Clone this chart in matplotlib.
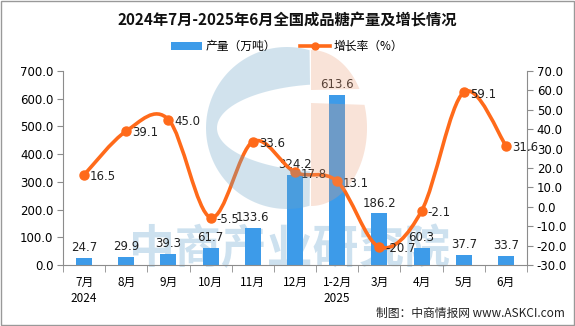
import matplotlib
matplotlib.use("Agg")
import matplotlib.pyplot as plt
from matplotlib.path import Path
from matplotlib.patches import PathPatch, Rectangle
from matplotlib.lines import Line2D
import numpy as np

plt.rcParams['font.family'] = ['Noto Sans CJK SC', 'DejaVu Sans']

categories = ['7月\n2024', '8月', '9月', '10月', '11月', '12月', '1-2月\n2025', '3月', '4月', '5月', '6月']
output = [24.7, 29.9, 39.3, 61.7, 133.6, 324.2, 613.6, 186.2, 60.3, 37.7, 33.7]
growth = [16.5, 39.1, 45.0, -5.5, 33.6, 17.8, 13.1, -20.7, -2.1, 59.1, 31.6]
left_ticks = [0, 100, 200, 300, 400, 500, 600, 700]
right_ticks = [-30, -20, -10, 0, 10, 20, 30, 40, 50, 60, 70]

BLUE = '#3d9be9'
ORANGE = '#ff6a1a'
GREY = '#8c8c8c'

fig = plt.figure(figsize=(5.75, 3.26), dpi=100)
fig.patch.set_facecolor('white')

# background watermark text
bax = fig.add_axes([0.0, 0.0, 1.0, 1.0], zorder=-1)
bax.set_xlim(0, 575); bax.set_ylim(326, 0); bax.axis('off')
bax.text(290, 250, '中商产业研究院', fontsize=33, color='#cde1ef', ha='center', va='center', fontweight='bold')

ax = fig.add_axes([0.1096, 0.187, 0.807, 0.595])
ax.patch.set_visible(False)
ax2 = ax.twinx()

n = len(categories)
x = np.arange(n)

ax.bar(x, output, width=0.38, color=BLUE, zorder=2)
for xi, v in zip(x, output):
    ax.text(xi, v + 14, f'{v:.1f}', ha='center', va='bottom', fontsize=8.5, color='#222222', family='DejaVu Sans')

ax.set_xlim(-0.5, n - 0.5)
ax.set_ylim(0, 700)
ax.set_yticks(left_ticks)
ax.set_yticklabels([f'{t:.1f}' for t in left_ticks], fontsize=8.5, family='DejaVu Sans')
ax.set_xticks(x)
ax.set_xticklabels(categories, fontsize=8.5, linespacing=1.25)
ax.tick_params(axis='x', length=0, pad=8)
ax.set_xticks(np.arange(n + 1) - 0.5, minor=True)
ax.tick_params(axis='x', which='minor', length=5, color=GREY)
ax.tick_params(axis='y', length=4, color=GREY, pad=3)

ax2.set_ylim(-30, 70)
ax2.set_yticks(right_ticks)
ax2.set_yticklabels([f'{t:.1f}' for t in right_ticks], fontsize=8.5, family='DejaVu Sans')
ax2.tick_params(axis='y', length=4, color=GREY, pad=3)

# smooth line via Catmull-Rom bezier path through data points
pts = np.column_stack([x, growth]).astype(float)
verts = [tuple(pts[0])]
codes = [Path.MOVETO]
for i in range(n - 1):
    p0 = pts[i - 1] if i > 0 else pts[i]
    p1 = pts[i]
    p2 = pts[i + 1]
    p3 = pts[i + 2] if i + 2 < n else pts[i + 1]
    c1 = p1 + (p2 - p0) / 6.0
    c2 = p2 - (p3 - p1) / 6.0
    verts += [tuple(c1), tuple(c2), tuple(p2)]
    codes += [Path.CURVE4] * 3
ax2.add_patch(PathPatch(Path(verts, codes), facecolor='none', edgecolor=ORANGE, lw=2.6, zorder=3))
ax2.plot(x, growth, 'o', color=ORANGE, markersize=6.5, zorder=4)
for xi, v in zip(x, growth):
    ax2.text(xi + 0.14, v - 1.0, f'{v:.1f}', ha='left', va='center', fontsize=8.5, color='#222222', family='DejaVu Sans', zorder=5)

for a in (ax, ax2):
    a.spines['top'].set_visible(False)
    for s in ('left', 'right', 'bottom'):
        a.spines[s].set_color(GREY)
ax.spines['right'].set_visible(False)
ax2.spines['left'].set_visible(False)
ax2.spines['bottom'].set_visible(False)

# foreground translucent logo
fax = fig.add_axes([0.0, 0.0, 1.0, 1.0], zorder=10)
fax.set_xlim(0, 575); fax.set_ylim(326, 0); fax.axis('off')
fax.patch.set_visible(False)
theta = np.linspace(0, 2 * np.pi, 240)
outer = np.column_stack([287 + 81 * np.cos(theta), 128 + 81 * np.sin(theta)])
outer = outer[outer[:, 0] <= 311]
ang = np.arctan2(outer[:, 1] - 128, outer[:, 0] - 287)
ang = np.where(ang < 0, ang + 2 * np.pi, ang)
outer = outer[np.argsort(-ang)]
hole_t = np.linspace(np.pi * 0.5, np.pi * 1.5, 160)
hole = np.column_stack([330 + 113 * np.cos(hole_t), 128 + 44 * np.sin(hole_t)])
hole = hole[hole[:, 0] <= 311]
c_poly = np.vstack([outer, hole])
fax.fill(c_poly[:, 0], c_poly[:, 1], color=(105/255, 162/255, 198/255), alpha=0.3, lw=0)
d_t = np.linspace(-np.pi / 2, np.pi / 2, 100)
d = np.column_stack([311 + 56 * np.cos(d_t), 128 + 78 * np.sin(d_t)])
top = d[d[:, 1] <= 90]
bot = d[d[:, 1] >= 103]
top_poly = np.vstack([[311, 50], top, [311, 90]])
bot_poly = np.vstack([[311, 103], bot, [311, 206]])
for poly in (top_poly, bot_poly):
    fax.fill(poly[:, 0], poly[:, 1], color=(235/255, 155/255, 115/255), alpha=0.28, lw=0)

fig.text(0.5, 0.939, '2024年7月-2025年6月全国成品糖产量及增长情况', ha='center', va='center',
         fontsize=11, fontweight='bold', color='#111111')

handles = [Rectangle((0, 0), 1, 1, facecolor=BLUE),
           Line2D([0], [0], color=ORANGE, lw=2.6, marker='o', markersize=5)]
fig.legend(handles, ['产量（万吨）', '增长率（%）'], loc='center', bbox_to_anchor=(0.5, 0.857),
           ncol=2, frameon=False, fontsize=8.5, handlelength=2.6, handleheight=0.6,
           handletextpad=0.3, columnspacing=2.0)

fig.text(0.982, 0.04, '制图：中商情报网 www.ASKCI.com', ha='right', va='center', fontsize=8.5, color='#222222')

border = Rectangle((0.001, 0.002), 0.997, 0.995, transform=fig.transFigure, fill=False, edgecolor='#999999', lw=1)
fig.patches.append(border)

fig.savefig('out.png', dpi=100, facecolor='white')
